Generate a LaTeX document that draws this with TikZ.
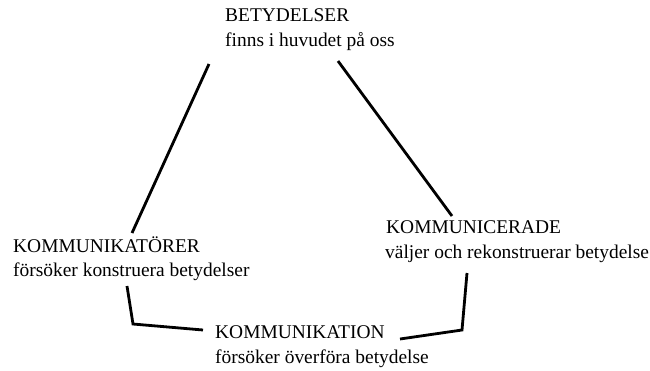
\documentclass[tikz,border=0pt]{standalone}
\usepackage{fontspec}
\setmainfont{Liberation Serif}
\begin{document}
\begin{tikzpicture}[x=1bp,y=-1bp,
  lbl/.style={anchor=base west,inner sep=0pt,font=\fontsize{19.5}{25}\selectfont},
  conn/.style={line width=2.8bp,line join=miter}]
\useasboundingbox (0,0) rectangle (650,370);
% labels
\node[lbl] (bet) at (225,21) {BETYDELSER};
\node[lbl] (betsub) at (225,46) {finns i huvudet på oss};
\node[lbl] (kt) at (13,252) {KOMMUNIKATÖRER};
\node[lbl] (ktsub) at (13,276) {försöker konstruera betydelser};
\node[lbl] (kc) at (386,233) {KOMMUNICERADE};
\node[lbl] (kcsub) at (385,258) {väljer och rekonstruerar betydelse};
\node[lbl] (ki) at (215,338) {KOMMUNIKATION};
\node[lbl] (kisub) at (215,363) {försöker överföra betydelse};
% connector ends
\coordinate (a1) at (209,64);
\coordinate (a2) at (132,233);
\coordinate (b1) at (338,61);
\coordinate (b2) at (452,216);
\coordinate (c1) at (127,286);
\coordinate (c2) at (133,324);
\coordinate (c3) at (203,330);
\coordinate (d1) at (400,339);
\coordinate (d2) at (462,330);
\coordinate (d3) at (467,273);
% connectors
\draw[conn] (a1) -- (a2);
\draw[conn] (b1) -- (b2);
\draw[conn] (c1) -- (c2) -- (c3);
\draw[conn] (d1) -- (d2) -- (d3);
\end{tikzpicture}
\end{document}
